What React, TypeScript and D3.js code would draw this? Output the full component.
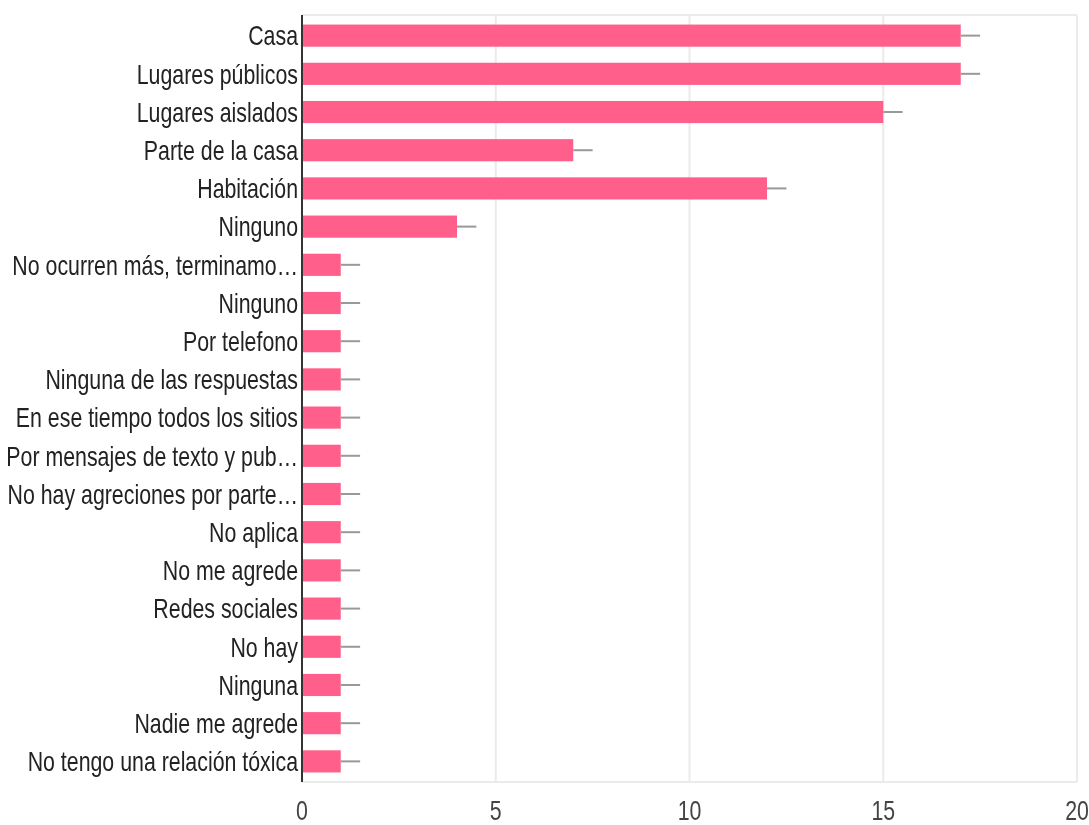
import { useEffect, useRef } from "react";
import * as d3 from "d3";

const categories = [
  "Casa",
  "Lugares públicos",
  "Lugares aislados",
  "Parte de la casa",
  "Habitación",
  "Ninguno",
  "No ocurren más, terminamo…",
  "Ninguno ",
  "Por telefono",
  "Ninguna de las respuestas",
  "En ese tiempo todos los sitios",
  "Por mensajes de texto y pub…",
  "No hay agreciones por parte…",
  "No aplica",
  "No me agrede",
  "Redes sociales",
  "No hay",
  "Ninguna",
  "Nadie me agrede",
  "No tengo una relación tóxica",
];
const values = [17, 17, 15, 7, 12, 4, 1, 1, 1, 1, 1, 1, 1, 1, 1, 1, 1, 1, 1, 1];
const errors = [0.5, 0.5, 0.5, 0.5, 0.5, 0.5, 0.5, 0.5, 0.5, 0.5, 0.5, 0.5, 0.5, 0.5, 0.5, 0.5, 0.5, 0.5, 0.5, 0.5];
const xTicks = [0, 5, 10, 15, 20];

function App() {
  const ref = useRef(null);

  useEffect(() => {
    const width = 1089;
    const height = 825;
    const margin = { top: 15, right: 12, bottom: 43, left: 302 };
    // narrow sans look: Liberation Sans squeezed horizontally
    const font = "'Liberation Sans', Arial, sans-serif";
    const squeeze = 0.79;

    const root = d3.select(ref.current);
    root.selectAll("*").remove();

    const svg = root
      .append("svg")
      .attr("width", width)
      .attr("height", height)
      .style("display", "block");

    const x = d3
      .scaleLinear()
      .domain([0, 20])
      .range([margin.left, width - margin.right]);

    const y = d3
      .scaleBand()
      .domain(categories.map((d, i) => String(i)))
      .range([margin.top, height - margin.bottom])
      .paddingInner(0.42)
      .paddingOuter(0.25);

    // gridlines
    svg
      .selectAll("line.grid")
      .data(xTicks)
      .enter()
      .append("line")
      .attr("x1", (d) => x(d))
      .attr("x2", (d) => x(d))
      .attr("y1", margin.top)
      .attr("y2", height - margin.bottom)
      .attr("stroke", "#ebebeb")
      .attr("stroke-width", 2);

    [margin.top, height - margin.bottom].forEach((yy) => {
      svg
        .append("line")
        .attr("x1", margin.left)
        .attr("x2", width - margin.right)
        .attr("y1", yy)
        .attr("y2", yy)
        .attr("stroke", "#ebebeb")
        .attr("stroke-width", 2);
    });

    // bars
    svg
      .selectAll("rect.bar")
      .data(values)
      .enter()
      .append("rect")
      .attr("x", x(0))
      .attr("y", (d, i) => y(String(i)))
      .attr("width", (d) => x(d) - x(0))
      .attr("height", y.bandwidth())
      .attr("fill", "#ff5f8a");

    // error bars
    svg
      .selectAll("line.err")
      .data(values)
      .enter()
      .append("line")
      .attr("x1", (d) => x(d))
      .attr("x2", (d, i) => x(d + errors[i]))
      .attr("y1", (d, i) => y(String(i)) + y.bandwidth() / 2)
      .attr("y2", (d, i) => y(String(i)) + y.bandwidth() / 2)
      .attr("stroke", "#999")
      .attr("stroke-width", 2);

    // left axis line
    svg
      .append("line")
      .attr("x1", margin.left)
      .attr("x2", margin.left)
      .attr("y1", margin.top)
      .attr("y2", height - margin.bottom)
      .attr("stroke", "#333")
      .attr("stroke-width", 2);

    // category labels
    svg
      .selectAll("text.cat")
      .data(categories)
      .enter()
      .append("text")
      .attr(
        "transform",
        (d, i) =>
          `translate(${margin.left - 4},${y(String(i)) + y.bandwidth() / 2}) scale(${squeeze},1)`
      )
      .attr("dy", "0.36em")
      .attr("text-anchor", "end")
      .attr("font-family", font)
      .attr("font-size", 27)
      .attr("fill", "#222")
      .text((d) => d.trim());

    // x tick labels
    svg
      .selectAll("text.tick")
      .data(xTicks)
      .enter()
      .append("text")
      .attr("transform", (d) => `translate(${x(d)},820) scale(${squeeze},1)`)
      .attr("text-anchor", "middle")
      .attr("font-family", font)
      .attr("font-size", 27)
      .attr("fill", "#444")
      .text((d) => d);
  }, []);

  return (
    <div ref={ref} style={{ position: "fixed", left: 0, top: 0 }}></div>
  );
}

export default App;
